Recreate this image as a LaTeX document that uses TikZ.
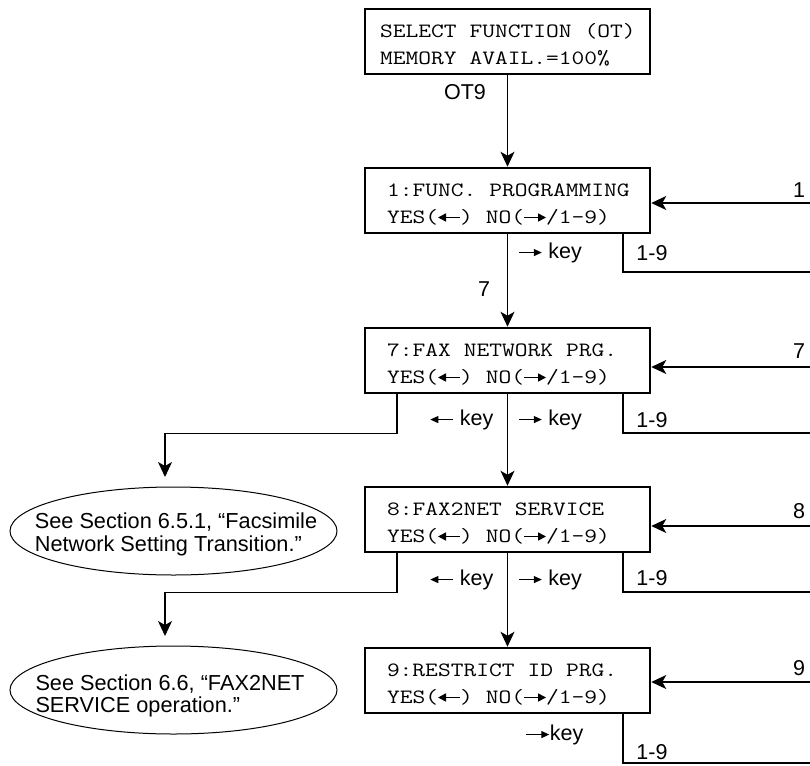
\documentclass[tikz,border=0pt]{standalone}
\usepackage{fontspec}
\usepackage{graphicx}
\setmainfont{Liberation Sans}
\newfontfamily\mono[FakeStretch=1.22]{Latin Modern Mono}
\usetikzlibrary{arrows.meta,shapes.geometric}
\newcommand\ms{\hbox to 13pt{}}
\newcommand\mla{\makebox[22pt][c]{\tikz[baseline=0pt,x=1pt,y=1pt]\draw[line width=1.6pt,-{Triangle[length=8pt,width=8pt]}] (22,6)--(0,6);}}
\newcommand\mra{\makebox[22pt][c]{\tikz[baseline=0pt,x=1pt,y=1pt]\draw[line width=1.6pt,-{Triangle[length=8pt,width=8pt]}] (0,6)--(22,6);}}
\newcommand\sla{\tikz[baseline=0pt,x=1pt,y=1pt]\draw[line width=1.1pt,-{Triangle[length=8pt,width=7pt]}] (23,6)--(0,6);}
\newcommand\sra{\tikz[baseline=0pt,x=1pt,y=1pt]\draw[line width=1.1pt,-{Triangle[length=8pt,width=7pt]}] (0,6)--(23,6);}
\frenchspacing
\begin{document}
\begin{tikzpicture}[x=1pt,y=-1pt,
  lcd/.style={draw, line width=2.5pt, font=\mono\fontsize{20.3}{27}\selectfont,
    text width=241pt, align=left, inner xsep=22pt, inner ysep=0pt,
    text height=28.5pt, text depth=36.5pt},
  conn/.style={line width=1.2pt},
  arr/.style={conn, -{Stealth[length=15pt,width=14pt,inset=4pt]}},
  lab/.style={font=\fontsize{21.5}{24}\selectfont, inner sep=0pt},
  bubble/.style={draw, ellipse, line width=1pt, minimum width=327pt,
    minimum height=88pt, inner sep=0pt},
  btext/.style={font=\fontsize{21.7}{23.5}\selectfont, align=left, inner sep=0pt}]
\useasboundingbox (0,0) rectangle (810,765);

% display boxes
\node[lcd, inner xsep=15pt, text width=255pt] (b0) at (507.5,41.5)
  {\mbox{SELECT\ms FUNCTION\ms(OT)}\\\mbox{MEMORY\ms AVAIL.=100\%}};
\node[lcd] (b1) at (507.5,200.5)
  {\mbox{1:FUNC.\ms PROGRAMMING}\\\mbox{YES(\mla)\ms NO(\mra/1-9)}};
\node[lcd] (b7) at (507.5,360.5)
  {\mbox{7:FAX\ms NETWORK\ms PRG.}\\\mbox{YES(\mla)\ms NO(\mra/1-9)}};
\node[lcd] (b8) at (507.5,519.5)
  {\mbox{8:FAX2NET\ms SERVICE}\\\mbox{YES(\mla)\ms NO(\mra/1-9)}};
\node[lcd] (b9) at (507.5,680.5)
  {\mbox{9:RESTRICT\ms ID\ms PRG.}\\\mbox{YES(\mla)\ms NO(\mra/1-9)}};

% reference bubbles
\node[bubble] (e1) at (173.5,531) {};
\node[btext] (e1t) at (176,534.5)
  {See Section 6.5.1, “Facsimile\\Network Setting Transition.”};
\node[bubble] (e2) at (173.5,690) {};
\node[btext, font=\fontsize{21.7}{22}\selectfont] (e2t) at (170,695.5)
  {See Section 6.6, “FAX2NET\\SERVICE operation.”};

% main vertical flow
\draw[arr] (b0.south) -- (b1.north);
\draw[arr] (b1.south) -- (b7.north);
\draw[arr] (b7.south) -- (b8.north);
\draw[arr] (b8.south) -- (b9.north);
\node[lab] (lot9) at (465,92) {OT9};
\node[lab] (l7) at (484,289) {7};

% incoming arrows from the right
\coordinate (r1) at (810,203);
\coordinate (r7) at (810,367);
\coordinate (r8) at (810,526);
\coordinate (r9) at (810,682);
\draw[arr] (r1) -- (r1 -| b1.east);
\draw[arr] (r7) -- (r7 -| b7.east);
\draw[arr] (r8) -- (r8 -| b8.east);
\draw[arr] (r9) -- (r9 -| b9.east);
\node[lab] (n1) at (799,190) {1};
\node[lab] (n7) at (799,351.5) {7};
\node[lab] (n8) at (799,511) {8};
\node[lab] (n9) at (799,668.5) {9};

% outgoing 1-9 branches
\coordinate (o1) at (810,272);
\coordinate (o7) at (810,433);
\coordinate (o8) at (810,592);
\coordinate (o9) at (810,763);
\draw[conn] ([xshift=115.5pt]b1.south) |- (o1);
\draw[conn] ([xshift=115.5pt]b7.south) |- (o7);
\draw[conn] ([xshift=115.5pt]b8.south) |- (o8);
\draw[conn] ([xshift=115.5pt]b9.south) |- (o9);
\node[lab] (k1) at (652,253) {1-9};
\node[lab] (k7) at (652,420) {1-9};
\node[lab] (k8) at (652,578.5) {1-9};
\node[lab] (k9) at (652,752.5) {1-9};

% key labels
\node[lab] (rk1) at (550,253) {\sra\ key};
\node[lab] (lk7) at (461.5,420) {\sla\ key};
\node[lab] (rk7) at (550,420) {\sra\ key};
\node[lab] (lk8) at (461.5,580) {\sla\ key};
\node[lab] (rk8) at (550,580) {\sra\ key};
\node[lab] (rk9) at (554.5,735) {\sra key};

% left branches to the bubbles
\coordinate (t1) at (165,477);
\coordinate (t2) at (165,636);
\draw[arr] ([xshift=-110.5pt]b7.south) -- ++(0,39) -| (t1);
\draw[arr] ([xshift=-110.5pt]b8.south) -- ++(0,39) -| (t2);
\end{tikzpicture}
\end{document}
